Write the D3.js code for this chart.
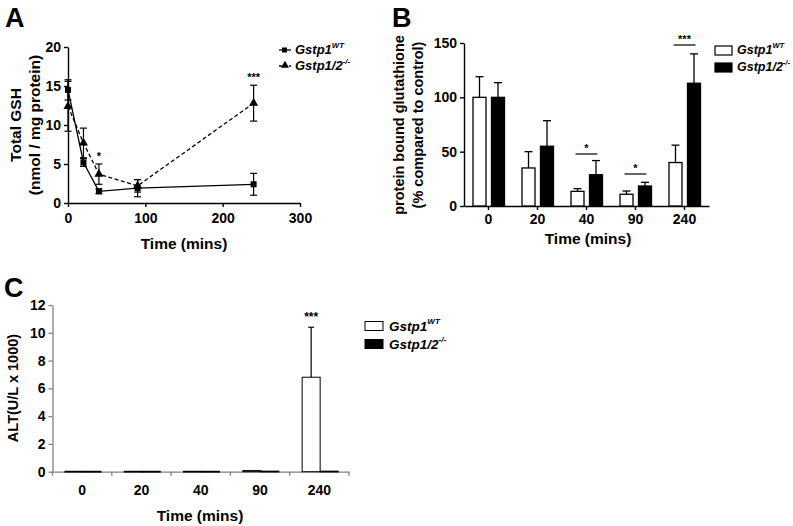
<!DOCTYPE html>
<html><head><meta charset="utf-8">
<script src="https://cdn.jsdelivr.net/npm/d3@7"></script>
<style>body{margin:0;background:#fff}svg{display:block}text{font-family:"Liberation Sans",Arial,sans-serif;font-weight:bold;fill:#000}</style>
</head><body>
<svg id="c" width="793" height="526"></svg>
<script>
// ---- Data ----
const timesA = [0, 20, 40, 90, 240];
const gshWT = [14.5, 5.2, 1.5, 1.9, 2.4];
const gshWTErr = [1.3, 0.5, 0.3, 1.1, 1.4];
const gshKO = [12.4, 7.7, 3.7, 2.2, 12.8];
const gshKOErr = [3.2, 1.9, 1.3, 0.8, 2.3];
const ticksAX = [0, 100, 200, 300];
const ticksAY = [0, 5, 10, 15, 20];

const catsB = ["0", "20", "40", "90", "240"];
const gbWT = [100, 35, 13.5, 10.8, 40];
const gbWTErr = [19, 15, 2.5, 3, 16];
const gbKO = [100, 55, 28.8, 18.4, 113];
const gbKOErr = [13.5, 23.5, 13, 3.4, 27];
const ticksBY = [0, 50, 100, 150];

const catsC = ["0", "20", "40", "90", "240"];
const altWT = [0.03, 0.03, 0.03, 0.08, 6.8];
const altWTErr = [0, 0, 0, 0, 3.6];
const altKO = [0.03, 0.03, 0.03, 0.04, 0.04];
const ticksCY = [0, 2, 4, 6, 8, 10, 12];

const svg = d3.select("#c");

function legendLabel(g, x, y, sup, size) {
  const t = g.append("text").attr("x", x).attr("y", y).attr("font-size", size)
    .attr("font-style", "italic").attr("dominant-baseline", "middle");
  const base = sup === "WT" ? "Gstp1" : "Gstp1/2";
  t.append("tspan").text(base);
  t.append("tspan").attr("font-size", size * 0.6).attr("dy", -size * 0.4).text(sup === "WT" ? "WT" : "-/-");
}

// ---------------- Panel A ----------------
{
  const x = d3.scaleLinear().domain([0, 300]).range([68, 300]);
  const y = d3.scaleLinear().domain([0, 20]).range([203, 47]);
  const g = svg.append("g");
  const ax = g.append("g").attr("transform", "translate(0,203)")
    .call(d3.axisBottom(x).tickValues(ticksAX).tickSize(4).tickSizeOuter(0));
  const ay = g.append("g").attr("transform", "translate(68,0)")
    .call(d3.axisLeft(y).tickValues(ticksAY).tickSize(4).tickSizeOuter(0));
  [ax, ay].forEach(a => { a.selectAll("path,line").attr("stroke", "#000").attr("stroke-width", 1.4);
    a.selectAll("text").attr("font-size", 14).attr("font-family", "Liberation Sans, Arial").attr("font-weight", "bold"); });
  ax.selectAll("text").attr("dy", "0.9em");

  const series = [
    {v: gshKO, e: gshKOErr, dash: "4,2.5", m: "tri"},
    {v: gshWT, e: gshWTErr, dash: null, m: "sq"}
  ];
  series.forEach(s => {
    const pts = timesA.map((t, i) => [t, s.v[i], s.e[i]]);
    const line = d3.line().x(d => x(d[0])).y(d => y(d[1]));
    g.append("path").attr("d", line(pts)).attr("fill", "none").attr("stroke", "#000")
      .attr("stroke-width", 1.3).attr("stroke-dasharray", s.dash);
    pts.forEach(d => {
      const cx = x(d[0]);
      g.append("line").attr("x1", cx).attr("x2", cx).attr("y1", y(d[1] - d[2])).attr("y2", y(d[1] + d[2])).attr("stroke", "#000").attr("stroke-width", 1.2);
      [d[1] - d[2], d[1] + d[2]].forEach(v => g.append("line").attr("x1", cx - 3.5).attr("x2", cx + 3.5).attr("y1", y(v)).attr("y2", y(v)).attr("stroke", "#000").attr("stroke-width", 1.2));
      if (s.m === "sq") g.append("rect").attr("x", cx - 3).attr("y", y(d[1]) - 3).attr("width", 6).attr("height", 6).attr("fill", "#000");
      else g.append("path").attr("d", d3.symbol(d3.symbolTriangle, 36)()).attr("transform", `translate(${cx},${y(d[1])})`).attr("fill", "#000");
    });
  });
  g.append("text").attr("x", x(40)).attr("y", y(gshKO[2] + gshKOErr[2]) - 4).attr("text-anchor", "middle").attr("font-size", 11).attr("font-weight", "normal").text("*");
  g.append("text").attr("x", x(240)).attr("y", y(gshKO[4] + gshKOErr[4]) - 4).attr("text-anchor", "middle").attr("font-size", 11).attr("font-weight", "normal").text("***");

  g.append("text").attr("x", 184).attr("y", 249).attr("text-anchor", "middle").attr("font-size", 15.5).text("Time (mins)");
  g.append("text").attr("transform", "translate(21,125) rotate(-90)").attr("text-anchor", "middle").attr("font-size", 15.5).text("Total GSH");
  g.append("text").attr("transform", "translate(40,125) rotate(-90)").attr("text-anchor", "middle").attr("font-size", 15.5).text("(nmol / mg protein)");
  g.append("text").attr("x", 5).attr("y", 27).attr("font-size", 27).text("A");

  // legend
  const lg = g.append("g");
  lg.append("line").attr("x1", 279).attr("x2", 291).attr("y1", 50).attr("y2", 50).attr("stroke", "#000").attr("stroke-width", 1.3);
  lg.append("rect").attr("x", 282).attr("y", 47.5).attr("width", 5).attr("height", 5).attr("fill", "#000");
  legendLabel(lg, 295, 51, "WT", 13);
  lg.append("line").attr("x1", 279).attr("x2", 291).attr("y1", 66).attr("y2", 66).attr("stroke", "#000").attr("stroke-width", 1.3).attr("stroke-dasharray", "3,2");
  lg.append("path").attr("d", d3.symbol(d3.symbolTriangle, 28)()).attr("transform", "translate(285,65.5)").attr("fill", "#000");
  legendLabel(lg, 295, 67, "KO", 13);
}

// ---------------- Panel B ----------------
{
  const x = d3.scaleBand().domain(catsB).range([464, 709]);
  const y = d3.scaleLinear().domain([0, 150]).range([206, 43]);
  const g = svg.append("g");
  const ax = g.append("g").attr("transform", "translate(0,206)")
    .call(d3.axisBottom(x).tickSize(4).tickSizeOuter(0));
  const ay = g.append("g").attr("transform", "translate(464,0)")
    .call(d3.axisLeft(y).tickValues(ticksBY).tickSize(4).tickSizeOuter(0));
  [ax, ay].forEach(a => { a.selectAll("path,line").attr("stroke", "#000").attr("stroke-width", 1.4);
    a.selectAll("text").attr("font-size", 14).attr("font-family", "Liberation Sans, Arial").attr("font-weight", "bold"); });
  ax.selectAll("text").attr("dy", "0.8em");
  const bw = 13;
  catsB.forEach((c, i) => {
    const cx = x(c) + x.bandwidth() / 2;
    [[gbWT[i], gbWTErr[i], cx - 15.5, "#fff"], [gbKO[i], gbKOErr[i], cx + 3, "#000"]].forEach(([v, e, bx, f]) => {
      const mx = bx + bw / 2;
      g.append("line").attr("x1", mx).attr("x2", mx).attr("y1", y(v)).attr("y2", y(v + e)).attr("stroke", "#000").attr("stroke-width", 1.3);
      g.append("line").attr("x1", mx - 4).attr("x2", mx + 4).attr("y1", y(v + e)).attr("y2", y(v + e)).attr("stroke", "#000").attr("stroke-width", 1.3);
      g.append("rect").attr("x", bx).attr("y", y(v)).attr("width", bw).attr("height", y(0) - y(v)).attr("fill", f).attr("stroke", "#000").attr("stroke-width", 1.3);
    });
  });
  // significance
  [["40", "*", 154], ["90", "*", 174], ["240", "***", 45]].forEach(([c, s, ly]) => {
    const cx = x(c) + x.bandwidth() / 2;
    g.append("line").attr("x1", cx - 11).attr("x2", cx + 11).attr("y1", ly).attr("y2", ly).attr("stroke", "#000").attr("stroke-width", 1.2);
    g.append("text").attr("x", cx).attr("y", ly - 2).attr("text-anchor", "middle").attr("font-size", 11).attr("font-weight", "normal").text(s);
  });
  g.append("text").attr("x", 588).attr("y", 244).attr("text-anchor", "middle").attr("font-size", 15.5).text("Time (mins)");
  g.append("text").attr("transform", "translate(404,125) rotate(-90)").attr("text-anchor", "middle").attr("font-size", 14.5).text("protein bound glutathione");
  g.append("text").attr("transform", "translate(423,125) rotate(-90)").attr("text-anchor", "middle").attr("font-size", 14.5).text("(% compared to control)");
  g.append("text").attr("x", 392).attr("y", 27).attr("font-size", 27).text("B");
  const lg = g.append("g");
  lg.append("rect").attr("x", 715).attr("y", 46).attr("width", 17).attr("height", 9).attr("fill", "#fff").attr("stroke", "#000").attr("stroke-width", 1.2);
  legendLabel(lg, 737, 51, "WT", 12.5);
  lg.append("rect").attr("x", 715).attr("y", 63).attr("width", 17).attr("height", 9).attr("fill", "#000").attr("stroke", "#000").attr("stroke-width", 1.2);
  legendLabel(lg, 737, 68, "KO", 12.5);
}

// ---------------- Panel C ----------------
{
  const x = d3.scaleBand().domain(catsC).range([52.5, 349]);
  const y = d3.scaleLinear().domain([0, 12]).range([471.7, 305]);
  const g = svg.append("g");
  const ax = g.append("g").attr("transform", "translate(0,471.7)")
    .call(d3.axisBottom(x).tickSize(0).tickSizeOuter(0));
  ax.selectAll(".tick text").attr("dy", "1.45em");
  // ticks at band boundaries
  const bounds = catsC.map(c => x(c)).concat([x.range()[1]]);
  bounds.forEach(b => ax.append("line").attr("x1", b).attr("x2", b).attr("y1", 0).attr("y2", 4));
  const ay = g.append("g").attr("transform", "translate(52.5,0)")
    .call(d3.axisLeft(y).tickValues(ticksCY).tickSize(4).tickSizeOuter(0));
  [ax, ay].forEach(a => { a.selectAll("path,line").attr("stroke", "#808080").attr("stroke-width", 1.3);
    a.selectAll("text").attr("font-size", 14).attr("font-family", "Liberation Sans, Arial").attr("font-weight", "bold").attr("fill", "#000"); });
  const bw = 18;
  catsC.forEach((c, i) => {
    const cx = x(c) + x.bandwidth() / 2 + 0.8;
    [[altWT[i], altWTErr[i], cx - bw, "#fff"], [altKO[i], 0, cx, "#000"]].forEach(([v, e, bx, f]) => {
      const mx = bx + bw / 2;
      if (e > 0) {
        g.append("line").attr("x1", mx).attr("x2", mx).attr("y1", y(v)).attr("y2", y(v + e)).attr("stroke", "#000").attr("stroke-width", 1.2);
        g.append("line").attr("x1", mx - 3).attr("x2", mx + 3).attr("y1", y(v + e)).attr("y2", y(v + e)).attr("stroke", "#000").attr("stroke-width", 1.2);
      }
      g.append("rect").attr("x", bx).attr("y", y(v)).attr("width", bw).attr("height", Math.max(0.8, y(0) - y(v))).attr("fill", f).attr("stroke", "#000").attr("stroke-width", 1);
    });
  });
  const c240 = x("240") + x.bandwidth() / 2 + 0.8 - bw / 2;
  g.append("text").attr("x", c240).attr("y", y(altWT[4] + altWTErr[4]) - 6).attr("text-anchor", "middle").attr("font-size", 12).attr("font-weight", "normal").text("***");
  g.append("text").attr("x", 200).attr("y", 521).attr("text-anchor", "middle").attr("font-size", 15.5).text("Time (mins)");
  g.append("text").attr("transform", "translate(18,388) rotate(-90)").attr("text-anchor", "middle").attr("font-size", 14.5).text("ALT(U/L x 1000)");
  g.append("text").attr("x", 4).attr("y", 297).attr("font-size", 27).text("C");
  const lg = g.append("g");
  lg.append("rect").attr("x", 365).attr("y", 321.5).attr("width", 18).attr("height", 9).attr("fill", "#fff").attr("stroke", "#000").attr("stroke-width", 1);
  legendLabel(lg, 389, 327, "WT", 13.5);
  lg.append("rect").attr("x", 365).attr("y", 339.5).attr("width", 18).attr("height", 9).attr("fill", "#000").attr("stroke", "#000").attr("stroke-width", 1);
  legendLabel(lg, 389, 345, "KO", 13.5);
}
</script>
</body></html>
